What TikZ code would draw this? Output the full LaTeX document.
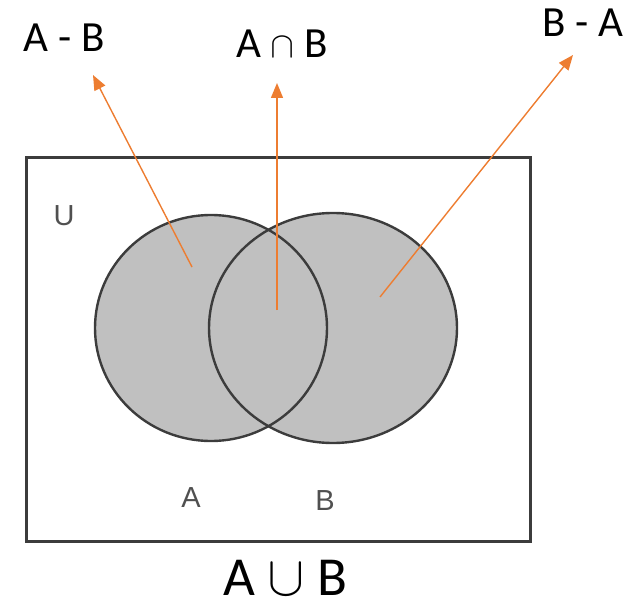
\documentclass[tikz,border=0pt]{standalone}
\usepackage{fontspec}
\usepackage{unicode-math}
\setmainfont{Carlito}
\setmathfont{Latin Modern Math}
\newfontfamily\smallsans{Liberation Sans}
\usetikzlibrary{arrows.meta}

\definecolor{setgray}{HTML}{C0C0C0}
\definecolor{edgegray}{HTML}{3C3C3C}
\definecolor{arrorange}{HTML}{ED7D31}
\definecolor{lblgray}{HTML}{505050}

\begin{document}
\begin{tikzpicture}[
  x=1pt, y=-1pt,
  biglbl/.style={inner sep=0pt, anchor=base, font=\fontsize{43}{48}\selectfont},
  unionlbl/.style={inner sep=0pt, anchor=base, font=\fontsize{55}{60}\selectfont},
  smalllbl/.style={inner sep=0pt, anchor=base, text=lblgray, font=\smallsans\fontsize{29}{32}\selectfont},
  setfill/.style={fill=setgray},
  setedge/.style={draw=edgegray, line width=2.4pt},
  arr/.style={-{Triangle[length=15pt,width=12pt]}, draw=arrorange, line width=1.4pt}
]
\useasboundingbox (0,0) rectangle (634,604);

% Universe
\draw[draw=edgegray, line width=3pt] (26,158) rectangle (530,541);
\node[smalllbl] (lblU) at (64,225) {U};

% Sets
\fill[setfill] (211,328) ellipse [x radius=116, y radius=113];
\fill[setfill] (333,328) ellipse [x radius=124, y radius=115];
\draw[setedge] (211,328) ellipse [x radius=116, y radius=113];
\draw[setedge] (333,328) ellipse [x radius=124, y radius=115];
\node[smalllbl] (lblA) at (191,507) {A};
\node[smalllbl] (lblB) at (325,510) {B};

% Region labels
\node[biglbl] (aminusb) at (64,52) {A - B};
\node[biglbl] (ainterb) at (282,58) {A {\fontsize{36}{36}\selectfont$\cap$} B};
\node[biglbl] (bminusa) at (583,37) {B - A};
\node[unionlbl] (aunionb) at (285,595) {A {\fontsize{56}{56}\selectfont$\cup$} B};

% Arrows
\coordinate (inAB) at (192,267);
\coordinate (inAnB) at (277,310);
\coordinate (inBA) at (380,297);
\coordinate (tipAB) at (93,75);
\coordinate (tipAnB) at (277,83);
\coordinate (tipBA) at (573,55);
\draw[arr] (inAB) -- (tipAB);
\draw[arr] (inAnB) -- (tipAnB);
\draw[arr] (inBA) -- (tipBA);
\end{tikzpicture}
\end{document}
